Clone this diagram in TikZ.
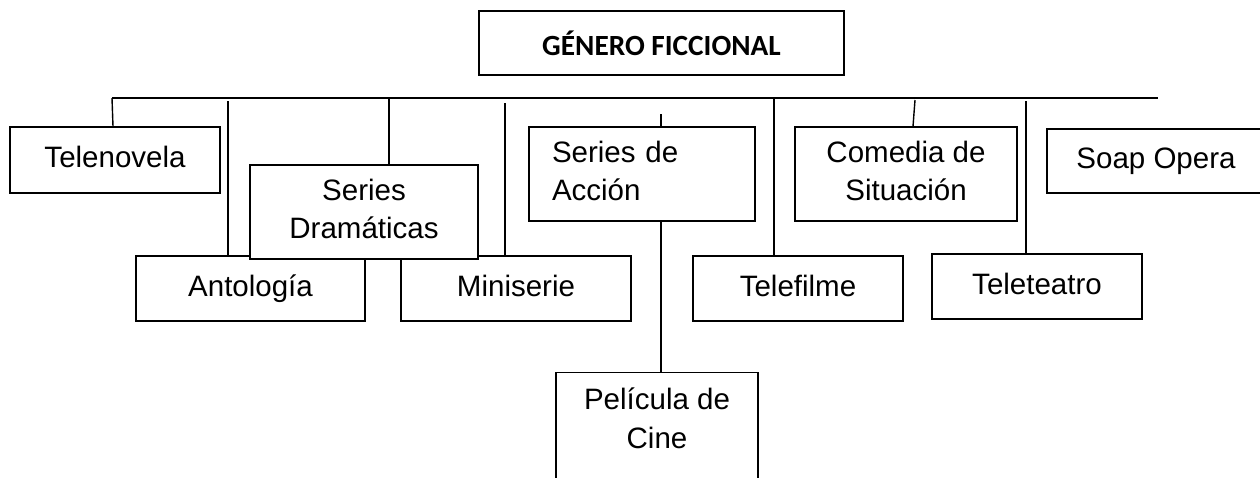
\documentclass[tikz,border=0pt]{standalone}
\usepackage{fontspec}
\setmainfont{Liberation Sans}
\newfontfamily\calibrifont{Carlito}
\begin{document}
\begin{tikzpicture}[x=1pt,y=-1pt,
  box/.style={draw, fill=white, line width=1.4pt, inner sep=0pt,
    font=\fontsize{29.5}{38.5}\selectfont, align=center},
  lbl/.style={inner sep=0pt, font=\fontsize{29.5}{38.5}\selectfont, align=center},
  conn/.style={line width=1.4pt}]
\useasboundingbox (0,0) rectangle (1260,477);
% root
\node[box, minimum width=365, minimum height=64,
  font=\calibrifont\bfseries\fontsize{29.3}{34}\selectfont] (gen) at (661.5,43) {GÉNERO FICCIONAL};
% children
\node[box, minimum width=210, minimum height=66] (tel) at (115,160) {\strut Telenovela};
\node[box, minimum width=229, minimum height=65] (ant) at (250.5,288.5) {\strut Antología};
\node[box, minimum width=230, minimum height=65] (mini) at (516,288.5) {\strut Miniserie};
\node[box, minimum width=228, minimum height=94] (dram) at (364,212) {\strut Series\\\strut Dramáticas};
\node[box, minimum width=226, minimum height=94, text width=180, align=left] (acc) at (642,174) {\strut Series de\\\strut Acción};
\node[box, minimum width=202, minimum height=140, anchor=north] (pel) at (657,372) {};
\node[lbl] (pelT) at (657,421.5) {\strut Película de\\\strut Cine};
\node[box, minimum width=210, minimum height=65] (tf) at (798,288.5) {\strut Telefilme};
\node[box, minimum width=222, minimum height=94] (com) at (906,174) {\strut Comedia de\\\strut Situación};
\node[box, minimum width=210, minimum height=65] (tt) at (1037,286.5) {\strut Teleteatro};
\node[box, minimum width=218, minimum height=64] (soap) at (1156,161) {\strut Soap Opera};
% bus and connectors
\coordinate (j1) at (112,98);
\coordinate (j9) at (1158,98);
\draw[conn] (j1) -- (j9);
\draw[conn] (j1) -- ([xshift=-2pt]tel.north);
\coordinate (a2) at (228,101);
\draw[conn] (a2) -- (a2 |- ant.north);
\coordinate (a3) at (389,98);
\draw[conn] (a3) -- (a3 |- dram.north);
\coordinate (a4) at (505,103);
\draw[conn] (a4) -- (a4 |- mini.north);
\coordinate (a5) at (661,114);
\draw[conn] (a5) -- (a5 |- acc.north);
\draw[conn] (a5 |- acc.south) -- (a5 |- pel.north);
\coordinate (a6) at (774,99);
\draw[conn] (a6) -- (a6 |- tf.north);
\coordinate (a7) at (915,100);
\draw[conn] (a7) -- ([xshift=7pt]com.north);
\coordinate (a8) at (1026,101);
\draw[conn] (a8) -- (a8 |- tt.north);
% source line, cut by the lower edge as in the reference
\begin{scope}
\clip (0,0) rectangle (1260,477);
\node[anchor=north west, inner sep=0pt, text=gray!70,
  font=\fontsize{22}{26}\selectfont] (src) at (46,479) {(Elaboración Propia)};
\end{scope}
\end{tikzpicture}
\end{document}
